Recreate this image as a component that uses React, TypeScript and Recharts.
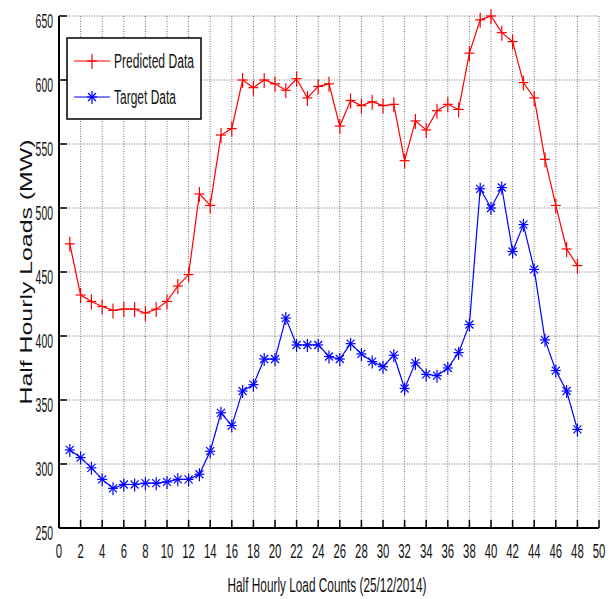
import React from "react";
import {
  LineChart,
  Line,
  XAxis,
  YAxis,
  CartesianGrid,
} from "recharts";

// half-hour index 1..48 (25/12/2014)
const counts = [
  1, 2, 3, 4, 5, 6, 7, 8, 9, 10, 11, 12, 13, 14, 15, 16, 17, 18, 19, 20, 21, 22,
  23, 24, 25, 26, 27, 28, 29, 30, 31, 32, 33, 34, 35, 36, 37, 38, 39, 40, 41,
  42, 43, 44, 45, 46, 47, 48,
];

const predicted = [
  472, 432, 427, 423, 420, 421, 421, 418, 421, 427, 439, 448, 511, 502, 557,
  562, 600, 594, 600, 597, 592, 601, 586, 595, 597, 564, 584, 580, 583, 580,
  581, 537, 568, 561, 576, 581, 577, 621, 647, 650, 637, 630, 598, 586, 538,
  502, 468, 455,
];

const target = [
  311, 305, 297, 288, 281, 284, 284, 285, 285, 286, 288, 288, 292, 310, 340,
  330, 357, 362, 382, 382, 414, 393, 393, 393, 384, 382, 394, 386, 380, 376,
  385, 359, 379, 370, 369, 375, 387, 409, 515, 500, 516, 466, 487, 452, 397,
  373, 357, 327,
];

const xTicks = [
  0, 2, 4, 6, 8, 10, 12, 14, 16, 18, 20, 22, 24, 26, 28, 30, 32, 34, 36, 38, 40,
  42, 44, 46, 48, 50,
];
const yTicks = [250, 300, 350, 400, 450, 500, 550, 600, 650];

const data = counts.map((c, i) => ({
  count: c,
  predicted: predicted[i],
  target: target[i],
}));

const RED = "#ff0000";
const BLUE = "#0000ff";
const FONT = "'Liberation Sans', Arial, sans-serif";

function PlusDot(props: any) {
  const { cx, cy } = props;
  if (cx == null || cy == null) return null;
  return (
    <g stroke={RED} strokeWidth={1.2}>
      <line x1={cx - 5} y1={cy} x2={cx + 5} y2={cy} />
      <line x1={cx} y1={cy - 7} x2={cx} y2={cy + 8} />
    </g>
  );
}

function StarDot(props: any) {
  const { cx, cy } = props;
  if (cx == null || cy == null) return null;
  return (
    <g stroke={BLUE} strokeWidth={1.2}>
      <line x1={cx - 5} y1={cy} x2={cx + 5} y2={cy} />
      <line x1={cx} y1={cy - 6} x2={cx} y2={cy + 7} />
      <line x1={cx - 4} y1={cy - 4} x2={cx + 4} y2={cy + 4} />
      <line x1={cx - 4} y1={cy + 4} x2={cx + 4} y2={cy - 4} />
    </g>
  );
}

function XTick(props: any) {
  const { x, payload } = props;
  const s = String(payload.value);
  return (
    <text
      x={x}
      y={558}
      textAnchor="middle"
      fontFamily={FONT}
      fontSize={20}
      fill="#111"
      textLength={s.length * 6.3}
      lengthAdjust="spacingAndGlyphs"
    >
      {s}
    </text>
  );
}

function YTick(props: any) {
  const { y, payload } = props;
  const s = String(payload.value);
  return (
    <text
      x={53}
      y={y + 12}
      textAnchor="end"
      fontFamily={FONT}
      fontSize={20}
      fill="#111"
      textLength={s.length * 5.8}
      lengthAdjust="spacingAndGlyphs"
    >
      {s}
    </text>
  );
}

function YTitle() {
  return (
    <text
      x={0}
      y={0}
      transform="translate(32, 272) rotate(-90)"
      textAnchor="middle"
      fontFamily={FONT}
      fontSize={16}
      fill="#111"
      textLength={265}
      lengthAdjust="spacingAndGlyphs"
    >
      Half Hourly Loads (MW)
    </text>
  );
}

function XTitle() {
  return (
    <text
      x={327}
      y={592}
      textAnchor="middle"
      fontFamily={FONT}
      fontSize={21}
      fill="#111"
      textLength={199}
      lengthAdjust="spacingAndGlyphs"
    >
      Half Hourly Load Counts (25/12/2014)
    </text>
  );
}

function LegendBox() {
  return (
    <svg
      width={136}
      height={83}
      overflow="visible"
      style={{ position: "absolute", left: 66, top: 37, overflow: "visible" }}
    >
      <rect x={1} y={1} width={134} height={81} fill="#fff" stroke="#000" strokeWidth={1.5} />
      <line x1={8} y1={24} x2={44} y2={24} stroke={RED} strokeWidth={1.2} />
      <PlusDot cx={26} cy={24} />
      <text
        x={48}
        y={31}
        fontFamily={FONT}
        fontSize={20}
        fill="#111"
        textLength={80}
        lengthAdjust="spacingAndGlyphs"
      >
        Predicted Data
      </text>
      <line x1={8} y1={60} x2={44} y2={60} stroke={BLUE} strokeWidth={1.2} />
      <StarDot cx={26} cy={60} />
      <text
        x={48}
        y={67}
        fontFamily={FONT}
        fontSize={20}
        fill="#111"
        textLength={62}
        lengthAdjust="spacingAndGlyphs"
      >
        Target Data
      </text>
    </svg>
  );
}

export default function App() {
  return (
    <div style={{ position: "absolute", left: 0, top: 0, width: 616, height: 599, background: "#fff" }}>
      <LineChart
        width={616}
        height={599}
        data={data}
        margin={{ top: 16, right: 17, bottom: 0, left: 0 }}
      >
        <CartesianGrid
          stroke="#6f6f6f"
          strokeDasharray="1 1.5"
          strokeWidth={1}
          horizontalValues={yTicks}
          verticalValues={xTicks}
        />
        <XAxis
          dataKey="count"
          type="number"
          domain={[0, 50]}
          ticks={xTicks}
          height={71}
          axisLine={{ stroke: "#000", strokeWidth: 2 }}
          tickLine={{ stroke: "#000", strokeWidth: 1.5 }}
          tickSize={-8}
          tick={<XTick />}
          label={<XTitle />}
          interval={0}
        />
        <XAxis
          xAxisId="top"
          dataKey="count"
          type="number"
          orientation="top"
          domain={[0, 50]}
          ticks={xTicks}
          height={0}
          axisLine={{ stroke: "#000", strokeWidth: 2 }}
          tickLine={{ stroke: "#000", strokeWidth: 1.5 }}
          tickSize={-8}
          tick={false}
          interval={0}
        />
        <YAxis
          type="number"
          domain={[250, 650]}
          ticks={yTicks}
          width={59}
          axisLine={{ stroke: "#000", strokeWidth: 2 }}
          tickLine={{ stroke: "#000", strokeWidth: 1.5 }}
          tickSize={-8}
          tick={<YTick />}
          label={<YTitle />}
          interval={0}
        />
        <YAxis
          yAxisId="right"
          orientation="right"
          type="number"
          domain={[250, 650]}
          ticks={yTicks}
          width={0}
          axisLine={{ stroke: "#000", strokeWidth: 2 }}
          tickLine={{ stroke: "#000", strokeWidth: 1.5 }}
          tickSize={-8}
          tick={false}
          interval={0}
        />
        <Line
          type="linear"
          dataKey="predicted"
          stroke={RED}
          strokeWidth={1.2}
          dot={<PlusDot />}
          activeDot={false}
          isAnimationActive={false}
        />
        <Line
          type="linear"
          dataKey="target"
          stroke={BLUE}
          strokeWidth={1.2}
          dot={<StarDot />}
          activeDot={false}
          isAnimationActive={false}
        />
      </LineChart>
      <LegendBox />
    </div>
  );
}
